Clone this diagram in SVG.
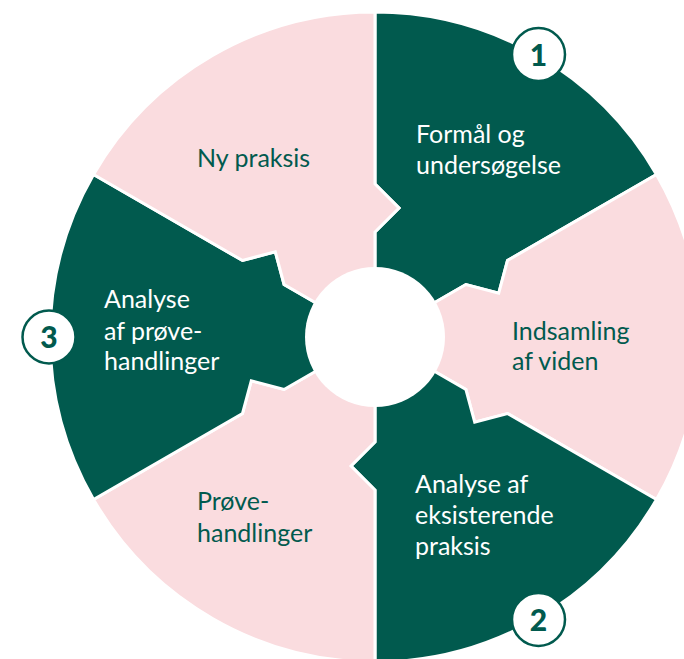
<svg xmlns="http://www.w3.org/2000/svg" width="684" height="659" viewBox="0 0 684 659">
<defs>
<style>
.g{fill:#015a4e;stroke:#ffffff;stroke-width:3;stroke-linejoin:miter}
.p{fill:#fadcdf;stroke:#ffffff;stroke-width:3;stroke-linejoin:miter}
.tw{font-family:Lato,"Liberation Sans",sans-serif;font-size:25px;fill:#ffffff}
.tg{font-family:Lato,"Liberation Sans",sans-serif;font-size:25px;fill:#015a4e}
.badge{fill:#ffffff;stroke:#015a4e;stroke-width:2.5}
.num{font-family:Lato,"Liberation Sans",sans-serif;font-size:30px;font-weight:900;fill:#015a4e;text-anchor:middle}
</style>
<path id="sector" d="M375,337 L375,232 L399,208 L375,184 L375,12 A325,325 0 0 1 656.46,174.5 L507.5,260.5 L498.7,293.3 L465.9,284.5 Z"/>
</defs>
<rect width="684" height="659" fill="#ffffff"/>
<g id="connectors"></g>
<g id="formaal">
<use href="#sector" class="g"/>
<text class="tw" x="416" y="143">Formål og</text>
<text class="tw" x="416" y="174">undersøgelse</text>
</g>
<g id="indsamling">
<use href="#sector" class="p" transform="rotate(60 375 337)"/>
<text class="tg" x="512" y="340">Indsamling</text>
<text class="tg" x="512" y="370">af viden</text>
</g>
<g id="analyse-eksisterende">
<use href="#sector" class="g" transform="rotate(120 375 337)"/>
<text class="tw" x="415" y="493">Analyse af</text>
<text class="tw" x="415" y="524">eksisterende</text>
<text class="tw" x="415" y="555">praksis</text>
</g>
<g id="proeve">
<use href="#sector" class="p" transform="rotate(180 375 337)"/>
<text class="tg" x="197" y="510">Prøve-</text>
<text class="tg" x="197" y="542">handlinger</text>
</g>
<g id="analyse-proeve">
<use href="#sector" class="g" transform="rotate(240 375 337)"/>
<text class="tw" x="104" y="308">Analyse</text>
<text class="tw" x="104" y="340">af prøve-</text>
<text class="tw" x="104" y="370">handlinger</text>
</g>
<g id="ny-praksis">
<use href="#sector" class="p" transform="rotate(300 375 337)"/>
<text class="tg" x="197" y="167">Ny praksis</text>
</g>
<circle id="center" cx="375" cy="337" r="70" fill="#ffffff"/>
<g id="badge1">
<circle class="badge" cx="538.5" cy="54.5" r="26.5"/>
<text class="num" x="538.5" y="65.5">1</text>
</g>
<g id="badge2">
<circle class="badge" cx="538.5" cy="619.5" r="26.5"/>
<text class="num" x="538.5" y="630.5">2</text>
</g>
<g id="badge3">
<circle class="badge" cx="49" cy="337" r="26.5"/>
<text class="num" x="49" y="348">3</text>
</g>
</svg>
